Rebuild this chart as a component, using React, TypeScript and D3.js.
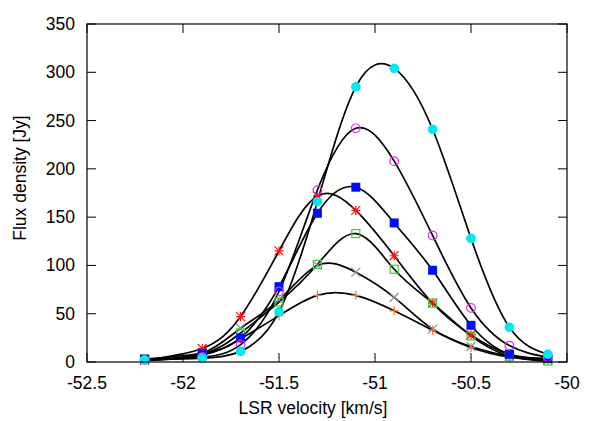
import React from 'react';
import * as d3 from 'd3';

// LSR velocities of the channels (km/s)
const velocity = [-52.2, -51.9, -51.7, -51.5, -51.3, -51.1, -50.9, -50.7, -50.5, -50.3, -50.1];

// flux density per epoch (Jy)
const epochPlus = [2, 7, 24, 48, 69, 69, 53, 33, 15, 5, 2];
const epochCross = [2, 9, 35, 64, 100, 93, 67, 34, 16, 6, 2];
const epochStar = [2, 14, 47, 115, 172, 157, 110, 61, 28, 8, 3];
const epochOpenSquare = [3, 8, 30, 62, 101, 133, 96, 61, 27, 6, 1];
const epochSquare = [3, 9, 25, 78, 154, 181, 144, 95, 38, 8, 4];
const epochOpenCircle = [2, 5, 18, 73, 178, 242, 208, 131, 56, 17, 5];
const epochCircle = [2, 4, 11, 52, 166, 285, 304, 241, 128, 36, 8];

const xTicks = [-52.5, -52, -51.5, -51, -50.5, -50];
const yTicks = [0, 50, 100, 150, 200, 250, 300, 350];

const series = [
  { values: epochPlus, marker: 'plus', color: '#ff7033' },
  { values: epochCross, marker: 'cross', color: '#909090' },
  { values: epochStar, marker: 'star', color: '#ff1010' },
  { values: epochOpenSquare, marker: 'osquare', color: '#30d030' },
  { values: epochSquare, marker: 'square', color: '#0010ff' },
  { values: epochOpenCircle, marker: 'ocircle', color: '#f020f0' },
  { values: epochCircle, marker: 'circle', color: '#00e8f0' },
];

const W = 600;
const H = 421;
const margin = { top: 24, right: 33, bottom: 59, left: 87 };

const Marker = ({ kind, x, y, color }: { kind: string; x: number; y: number; color: string }) => {
  const r = 4.5;
  const sw = 1.2;
  switch (kind) {
    case 'plus':
      return <path d={`M${x - r},${y}H${x + r}M${x},${y - r}V${y + r}`} stroke={color} strokeWidth={sw} />;
    case 'cross':
      return <path d={`M${x - r},${y - r}L${x + r},${y + r}M${x - r},${y + r}L${x + r},${y - r}`} stroke={color} strokeWidth={sw} />;
    case 'star':
      return (
        <path
          d={`M${x - r},${y}H${x + r}M${x},${y - r}V${y + r}M${x - r},${y - r}L${x + r},${y + r}M${x - r},${y + r}L${x + r},${y - r}`}
          stroke={color}
          strokeWidth={sw}
        />
      );
    case 'osquare':
      return <rect x={x - 4} y={y - 4} width={8} height={8} fill="none" stroke={color} strokeWidth={sw} />;
    case 'square':
      return <rect x={x - 4.5} y={y - 4.5} width={9} height={9} fill={color} />;
    case 'ocircle':
      return <circle cx={x} cy={y} r={4.3} fill="none" stroke={color} strokeWidth={sw} />;
    default:
      return <circle cx={x} cy={y} r={4.8} fill={color} />;
  }
};

export default function App() {
  const x = d3.scaleLinear().domain([-52.5, -50]).range([margin.left, W - margin.right]);
  const y = d3.scaleLinear().domain([0, 350]).range([H - margin.bottom, margin.top]);

  const line = d3
    .line<number>()
    .x((_, i) => x(velocity[i]))
    .y((d) => y(d))
    .curve(d3.curveNatural);

  const x0 = x.range()[0];
  const x1 = x.range()[1];
  const y0 = y.range()[0];
  const y1 = y.range()[1];
  const tick = 9;
  const font = "'Liberation Sans', Arial, Helvetica, sans-serif";
  const fs = 17.5;

  return (
    <svg width={W} height={H} style={{ position: 'absolute', left: 0, top: 0, background: '#fff' }} fontFamily={font}>
      {/* ticks, mirrored on all four sides */}
      {xTicks.map((t) => (
        <g key={'x' + t}>
          <line x1={x(t)} x2={x(t)} y1={y0} y2={y0 - tick} stroke="#000" />
          <line x1={x(t)} x2={x(t)} y1={y1} y2={y1 + tick} stroke="#000" />
          <text x={x(t)} y={389} textAnchor="middle" fontSize={fs}>
            {String(t)}
          </text>
        </g>
      ))}
      {yTicks.map((t) => (
        <g key={'y' + t}>
          <line x1={x0} x2={x0 + tick} y1={y(t)} y2={y(t)} stroke="#000" />
          <line x1={x1} x2={x1 - tick} y1={y(t)} y2={y(t)} stroke="#000" />
          <text x={75} y={y(t) + 6} textAnchor="end" fontSize={fs}>
            {String(t)}
          </text>
        </g>
      ))}

      {/* fitted spline through each epoch */}
      {series.map((s, i) => (
        <path key={'l' + i} d={line(s.values) || ''} fill="none" stroke="#000" strokeWidth={1.7} />
      ))}

      {series.map((s, i) => (
        <g key={'p' + i}>
          {s.values.map((v, j) => (
            <Marker key={j} kind={s.marker} x={x(velocity[j])} y={y(v)} color={s.color} />
          ))}
        </g>
      ))}

      <rect x={x0} y={y1} width={x1 - x0} height={y0 - y1} fill="none" stroke="#000" strokeWidth={1.2} />

      <text x={313} y={413.5} textAnchor="middle" fontSize={fs}>
        LSR velocity [km/s]
      </text>
      <text transform={`translate(26,178) rotate(-90)`} textAnchor="middle" fontSize={fs}>
        Flux density [Jy]
      </text>
    </svg>
  );
}
